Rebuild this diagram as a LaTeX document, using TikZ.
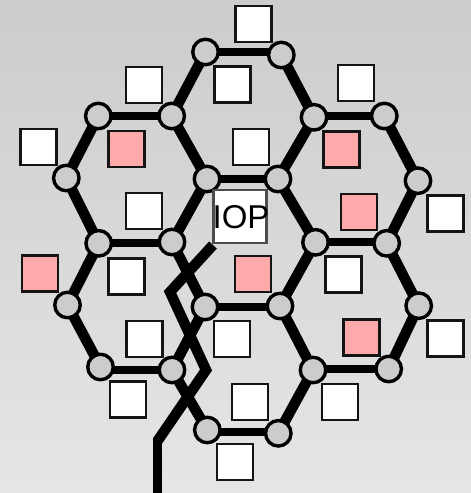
\documentclass[tikz,border=0pt]{standalone}
\usepackage{fontspec}
\setmainfont{Liberation Sans}
\tikzset{
  hub/.style={circle,draw=black,line width=3.4pt,fill=hubgray,minimum size=25.5pt,inner sep=0pt,outer sep=0pt},
  wbox/.style={rectangle,draw=black!92,line width=2.6pt,fill=white,minimum size=36pt,inner sep=0pt},
  pbox/.style={wbox,fill=pinkish},
  hlink/.style={draw=black,line width=8pt},
  dlink/.style={draw=black,line width=10.5pt},
  vlink/.style={draw=black,line width=8.5pt},
  iopbox/.style={rectangle,draw=black!70,line width=2.2pt,fill=white,minimum width=53pt,minimum height=53pt,inner sep=0pt},
}
\definecolor{hubgray}{HTML}{CCCCCC}
\definecolor{pinkish}{HTML}{FFAAAA}
\begin{document}
\begin{tikzpicture}[x=1pt,y=-1pt]
\useasboundingbox (0,0) rectangle (471,493);
\fill[top color=black!20,bottom color=black!10] (0,0) rectangle (471,493);
% hubs
\foreach \n/\x/\y in {a/205.5/52,b/281.3/55,c/98.3/116,d/171.7/116,e/314/117.3,f/384.3/116,
  g/66.3/178,h/207/179,i/278/179,j/418/180.7,k/98.7/243.3,l/172/242,m/315.5/242.3,n/386.7/243.3,
  o/67.5/305,p/205/307,q/280/306,r/418.7/305.7,s/100.5/367,t/172/370,u/313/370,v/388.7/369,
  w/207.3/430,x/278.3/433.3}
  \node[hub] (\n) at (\x,\y) {};
% slanted links
\foreach \u/\v in {a/d,b/e,c/g,d/h,e/i,f/j,g/k,h/l,i/m,j/n,k/o,l/p,
  m/q,n/r,o/s,p/t,q/u,r/v,t/w,u/x}
  \draw[dlink] (\u) -- (\v);
% level links, at the height of the left hub
\foreach \u/\v in {a/b,c/d,h/i,k/l,m/n,p/q}
  \draw[hlink] (\u) -- (\u -| \v.west);
% level links, at the height of the right hub
\foreach \u/\v in {e/f,s/t,u/v}
  \draw[hlink] (\v) -- (\v -| \u.east);
\coordinate (wxlevel) at (0,431.7);
\draw[hlink] (w.east |- wxlevel) -- (x.west |- wxlevel);
% white boxes
\foreach \n/\x/\y in {w1/253.3/24,w2/144/85,w3/356/83,w4/232.7/84.7,w5/38.3/147,w6/251/147,
  w7/144/211,w8/445.5/213.5,w9/126.7/276.3,w10/343.3/274.5,w11/144.5/339,w12/232/339,w13/445.5/338.3,
  w14/128/399.3,w15/250/402,w16/340/402,w17/235/462}
  \node[wbox] (\n) at (\x,\y) {};
% pink boxes
\foreach \n/\x/\y in {p1/126.3/149,p2/341.3/149.7,p3/359/212,p4/40/273.3,p5/253/274,p6/361.3/337.3}
  \node[pbox] (\n) at (\x,\y) {};
% IOP
\node[iopbox] (iop) at (240,216.5) {};
\node[inner sep=0pt,font=\fontsize{33}{33}\selectfont] (ioplabel) at (241,217) {IOP};
\coordinate (s0) at (213,245);
\coordinate (s1) at (170,292);
\coordinate (s2) at (206,370);
\coordinate (s3) at (157.5,441);
\coordinate (s3top) at (157.5,438);
\coordinate (s4) at (157.5,493);
\draw[dlink,line join=miter] (s0) -- (s1) -- (s2) -- (s3);
\draw[vlink] (s3top) -- (s4);
\end{tikzpicture}
\end{document}
